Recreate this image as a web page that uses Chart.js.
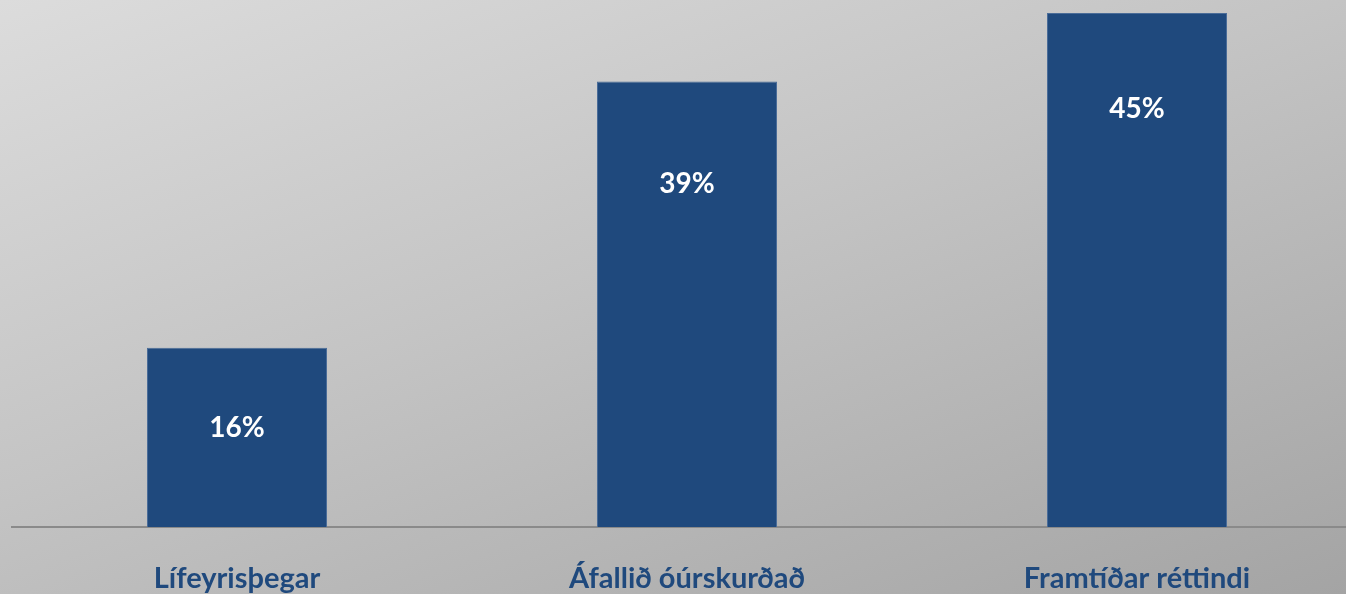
<!DOCTYPE html>
<html>
<head>
<meta charset="utf-8">
<script src="https://cdn.jsdelivr.net/npm/chart.js@4"></script>
<style>
  html, body { margin: 0; padding: 0; overflow: hidden; }
  body {
    width: 1346px; height: 594px;
    background: linear-gradient(160deg, #dcdcdc 0%, #c4c4c4 45%, #a4a4a4 100%);
  }
  #wrap { position: absolute; left: 0; top: 0; width: 1362px; height: 594px; }
</style>
</head>
<body>
<div id="wrap"><canvas id="grafico" width="1362" height="594"></canvas></div>
<script>
// gögn
const flokkar = ["Lífeyrisþegar", "Áfallið óúrskurðað", "Framtíðar réttindi"];
const hlutfall = [15.7, 39, 45];

const blar = "#1F497D";

// merki inni í súlunum
const merkiPlugin = {
  id: "merki",
  afterDatasetsDraw(chart, args, opts) {
    const c = chart.ctx;
    const meta = chart.getDatasetMeta(0);
    c.save();
    c.fillStyle = "#ffffff";
    c.font = "bold 28px Lato";
    c.textAlign = "center";
    c.textBaseline = "middle";
    meta.data.forEach((bar, i) => {
      const txt = Math.round(hlutfall[i]) + "%";
      c.fillText(txt, bar.x, bar.y + opts.bil[i]);
    });
    c.restore();
  }
};

const ctx = document.getElementById("grafico").getContext("2d");
new Chart(ctx, {
  type: "bar",
  data: {
    labels: flokkar,
    datasets: [{
      data: hlutfall,
      backgroundColor: blar,
      borderColor: "#4a6c98",
      borderWidth: 1,
      barPercentage: 0.4,
      categoryPercentage: 1
    }]
  },
  options: {
    responsive: false,
    animation: false,
    layout: { padding: { left: 12, right: 0, top: 0, bottom: 1 } },
    plugins: {
      legend: { display: false },
      tooltip: { enabled: false },
      merki: { bil: [80, 102, 96] }
    },
    scales: {
      x: {
        grid: { display: false },
        border: { display: true, color: "#8a8a8a", width: 2 },
        ticks: {
          color: blar,
          font: { family: "Lato", size: 29, weight: "bold" },
          padding: 26,
          maxRotation: 0
        },
        afterFit(scale) { scale.height = 66; }
      },
      y: {
        display: false,
        min: 0,
        max: 46.14
      }
    }
  },
  plugins: [merkiPlugin]
});
</script>
</body>
</html>
